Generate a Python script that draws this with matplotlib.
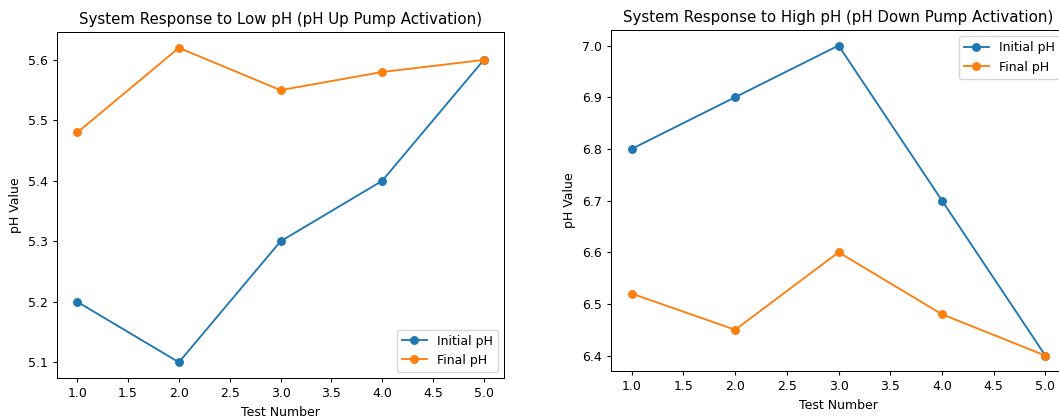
import matplotlib
matplotlib.use("Agg")
import matplotlib.pyplot as plt

tests = [1, 2, 3, 4, 5]

# low pH test (pH up pump)
low_initial = [5.2, 5.1, 5.3, 5.4, 5.6]
low_final = [5.48, 5.62, 5.55, 5.58, 5.6]

# high pH test (pH down pump)
high_initial = [6.8, 6.9, 7.0, 6.7, 6.4]
high_final = [6.52, 6.45, 6.6, 6.48, 6.4]

# the original was rendered a bit smaller than 100 dpi
plt.rcParams['font.size'] = 9
plt.rcParams['axes.titlesize'] = 10.8
plt.rcParams['lines.linewidth'] = 1.35
plt.rcParams['lines.markersize'] = 5.4
plt.rcParams['axes.linewidth'] = 0.72
plt.rcParams['xtick.major.size'] = 3.15
plt.rcParams['ytick.major.size'] = 3.15

fig = plt.figure(figsize=(10.59, 4.17), dpi=100)

# axes placed by hand, the right panel runs past the edge like the original
ax1 = fig.add_axes([0.0538, 0.0935, 0.4222, 0.8295])
ax2 = fig.add_axes([0.5770, 0.1100, 0.4297, 0.8180])

ax1.plot(tests, low_initial, marker='o', label='Initial pH')
ax1.plot(tests, low_final, marker='o', label='Final pH')
ax1.set_title('System Response to Low pH (pH Up Pump Activation)')
ax1.set_xlabel('Test Number')
ax1.set_ylabel('pH Value')
ax1.legend(loc='lower right')

ax2.plot(tests, high_initial, marker='o', label='Initial pH')
ax2.plot(tests, high_final, marker='o', label='Final pH')
ax2.set_title('System Response to High pH (pH Down Pump Activation)')
ax2.set_xlabel('Test Number')
ax2.set_ylabel('pH Value')
ax2.legend(loc='upper right')

fig.savefig('out.png', dpi=100)
